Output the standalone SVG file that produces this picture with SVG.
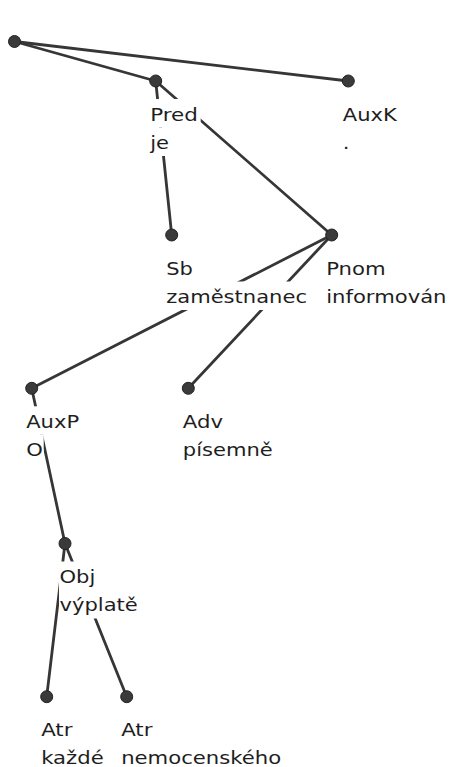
<svg xmlns="http://www.w3.org/2000/svg" width="451" height="767" viewBox="0 0 451 767">
  <style>
    .edge { stroke: #363636; stroke-width: 2.8; stroke-linecap: round; fill: none; }
    .dot { fill: #3a3a3a; stroke: #222; stroke-width: 1; }
    .bg { fill: #fff; }
    .lbl { font-family: "DejaVu Sans", "Noto Sans", sans-serif; font-size: 18px; fill: #1e1e1e; }
  </style>
  <rect width="451" height="767" fill="#fff"/>

  <!-- dependency edges -->
  <g id="edges">
    <line class="edge" x1="14.5" y1="41.5" x2="155.7" y2="81"/>
    <line class="edge" x1="14.5" y1="41.5" x2="348.3" y2="81"/>
    <line class="edge" x1="155.7" y1="81" x2="171.7" y2="235"/>
    <line class="edge" x1="155.7" y1="81" x2="331.7" y2="235"/>
    <line class="edge" x1="331.7" y1="235" x2="31.7" y2="388.3"/>
    <line class="edge" x1="331.7" y1="235" x2="188.3" y2="388.3"/>
    <line class="edge" x1="31.7" y1="388.3" x2="65" y2="543.5"/>
    <line class="edge" x1="65" y1="543.5" x2="46.7" y2="696.7"/>
    <line class="edge" x1="65" y1="543.5" x2="126.7" y2="696.7"/>
  </g>

  <g id="root">
    <circle class="dot" cx="14.5" cy="41.5" r="6"/>
  </g>

  <g id="pred">
    <circle class="dot" cx="155.7" cy="81" r="6"/>
    <rect class="bg" x="149.7" y="99" width="51" height="28.5"/>
    <rect class="bg" x="149.7" y="127.5" width="22" height="28.5"/>
    <text class="lbl" x="150.2" y="121" textLength="47.7" lengthAdjust="spacingAndGlyphs">Pred</text>
    <text class="lbl" x="150.2" y="149" textLength="18.8" lengthAdjust="spacingAndGlyphs">je</text>
  </g>

  <g id="auxk">
    <circle class="dot" cx="348.3" cy="81" r="6"/>
    <rect class="bg" x="342.3" y="99" width="57" height="28.5"/>
    <rect class="bg" x="342.3" y="127.5" width="10" height="28.5"/>
    <text class="lbl" x="342.8" y="121" textLength="54" lengthAdjust="spacingAndGlyphs">AuxK</text>
    <text class="lbl" x="342.8" y="149" textLength="6.7" lengthAdjust="spacingAndGlyphs">.</text>
  </g>

  <g id="sb">
    <circle class="dot" cx="171.7" cy="235" r="6"/>
    <rect class="bg" x="165.7" y="253" width="30" height="28.5"/>
    <rect class="bg" x="165.7" y="281.5" width="144" height="28.5"/>
    <text class="lbl" x="166.2" y="275" textLength="26.7" lengthAdjust="spacingAndGlyphs">Sb</text>
    <text class="lbl" x="166.2" y="303" textLength="140.8" lengthAdjust="spacingAndGlyphs">zaměstnanec</text>
  </g>

  <g id="pnom">
    <circle class="dot" cx="331.7" cy="235" r="6"/>
    <rect class="bg" x="325.7" y="253" width="62" height="28.5"/>
    <rect class="bg" x="325.7" y="281.5" width="123" height="28.5"/>
    <text class="lbl" x="326.2" y="275" textLength="59.5" lengthAdjust="spacingAndGlyphs">Pnom</text>
    <text class="lbl" x="326.2" y="303" textLength="120.3" lengthAdjust="spacingAndGlyphs">informován</text>
  </g>

  <g id="auxp">
    <circle class="dot" cx="31.7" cy="388.3" r="6"/>
    <rect class="bg" x="25.7" y="406.3" width="56" height="28.5"/>
    <rect class="bg" x="25.7" y="434.8" width="18" height="28.5"/>
    <text class="lbl" x="26.2" y="427.8" textLength="52.9" lengthAdjust="spacingAndGlyphs">AuxP</text>
    <text class="lbl" x="26.2" y="455.8" textLength="16.6" lengthAdjust="spacingAndGlyphs">O</text>
  </g>

  <g id="adv">
    <circle class="dot" cx="188.3" cy="388.3" r="6"/>
    <rect class="bg" x="182.3" y="406.3" width="43" height="28.5"/>
    <rect class="bg" x="182.3" y="434.8" width="93" height="28.5"/>
    <text class="lbl" x="182.8" y="427.8" textLength="40.2" lengthAdjust="spacingAndGlyphs">Adv</text>
    <text class="lbl" x="182.8" y="455.8" textLength="90" lengthAdjust="spacingAndGlyphs">písemně</text>
  </g>

  <g id="obj">
    <circle class="dot" cx="65" cy="543.5" r="6"/>
    <rect class="bg" x="59" y="561.5" width="39" height="28.5"/>
    <rect class="bg" x="59" y="590" width="81" height="28.5"/>
    <text class="lbl" x="59.5" y="583" textLength="35.8" lengthAdjust="spacingAndGlyphs">Obj</text>
    <text class="lbl" x="59.5" y="611" textLength="78.3" lengthAdjust="spacingAndGlyphs">výplatě</text>
  </g>

  <g id="atr-kazde">
    <circle class="dot" cx="46.7" cy="696.7" r="6"/>
    <rect class="bg" x="40.7" y="714.7" width="34" height="28.5"/>
    <rect class="bg" x="40.7" y="743.2" width="65" height="28.5"/>
    <text class="lbl" x="41.2" y="736.2" textLength="31.3" lengthAdjust="spacingAndGlyphs">Atr</text>
    <text class="lbl" x="41.2" y="763.5" textLength="62.5" lengthAdjust="spacingAndGlyphs">každé</text>
  </g>

  <g id="atr-nemocenskeho">
    <circle class="dot" cx="126.7" cy="696.7" r="6"/>
    <rect class="bg" x="120.7" y="714.7" width="34" height="28.5"/>
    <rect class="bg" x="120.7" y="743.2" width="163" height="28.5"/>
    <text class="lbl" x="121.2" y="736.2" textLength="31.3" lengthAdjust="spacingAndGlyphs">Atr</text>
    <text class="lbl" x="121.2" y="763.5" textLength="160" lengthAdjust="spacingAndGlyphs">nemocenského</text>
  </g>
</svg>
